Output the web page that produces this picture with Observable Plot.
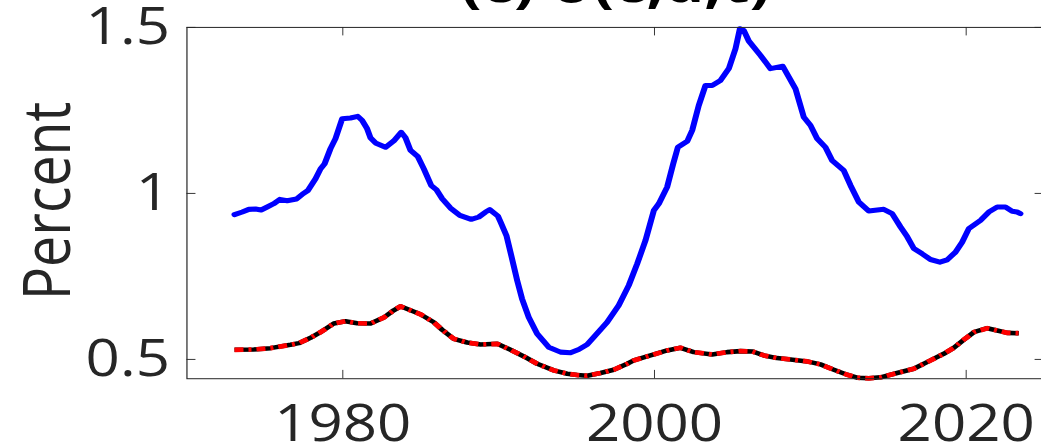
<!DOCTYPE html>
<html>
<head>
<meta charset="utf-8">
<script src="https://cdn.jsdelivr.net/npm/d3@7"></script>
<script src="https://cdn.jsdelivr.net/npm/@observablehq/plot@0.6"></script>
<style>
  html, body { margin: 0; padding: 0; background: #fff; overflow: hidden; }
  #chart svg { display: block; max-width: none; transform: scaleY(0.84); transform-origin: 0 0; }
</style>
</head>
<body>
<div id="chart"></div>
<script>
// Blue series: sigma(c,d,t)
const blueYears = [1973.05,1973.55,1973.97,1974.40,1974.76,1975.15,1975.57,1975.96,1976.43,1977.03,1977.39,1977.76,1978.25,1978.57,1978.83,1979.21,1979.53,1979.96,1980.49,1980.96,1981.24,1981.56,1981.78,1982.10,1982.74,1983.27,1983.75,1984.02,1984.34,1984.81,1985.20,1985.67,1986.01,1986.38,1986.91,1987.51,1988.24,1988.73,1989.16,1989.43,1989.95,1990.12,1990.50,1990.81,1991.19,1991.50,1991.93,1992.47,1993.22,1993.97,1994.61,1995.14,1995.68,1996.10,1996.96,1997.71,1998.35,1998.89,1999.42,1999.96,2000.28,2000.81,2001.20,2001.50,2002.10,2002.42,2002.84,2003.27,2003.70,2004.23,2004.77,2005.20,2005.48,2005.73,2006.05,2006.80,2007.44,2008.23,2009.05,2009.58,2010.01,2010.44,2010.97,2011.40,2012.15,2012.58,2013.11,2013.75,2014.71,2015.25,2015.79,2016.21,2016.64,2017.18,2017.71,2018.31,2018.78,2019.31,2019.74,2020.17,2020.92,2021.45,2021.99,2022.52,2022.95,2023.27,2023.48];
const blueValues = [0.936,0.944,0.952,0.953,0.950,0.959,0.969,0.982,0.978,0.983,0.997,1.009,1.044,1.074,1.089,1.135,1.165,1.225,1.227,1.232,1.220,1.195,1.167,1.152,1.139,1.158,1.184,1.168,1.130,1.111,1.074,1.024,1.011,0.984,0.956,0.934,0.922,0.929,0.944,0.951,0.932,0.914,0.873,0.813,0.738,0.683,0.627,0.577,0.537,0.522,0.520,0.530,0.545,0.567,0.612,0.663,0.723,0.788,0.858,0.949,0.969,1.019,1.089,1.139,1.157,1.190,1.265,1.325,1.325,1.340,1.376,1.436,1.496,1.491,1.459,1.416,1.376,1.383,1.315,1.230,1.205,1.165,1.139,1.099,1.069,1.024,0.974,0.947,0.952,0.939,0.899,0.870,0.834,0.818,0.801,0.793,0.800,0.823,0.853,0.894,0.919,0.944,0.959,0.959,0.946,0.944,0.939];

// Black (solid) and red (dash-dot) series, overlapping
const lowYears = [1973.05,1974.29,1975.36,1976.64,1977.18,1977.93,1978.57,1979.42,1980.17,1980.92,1981.78,1982.63,1983.27,1983.70,1984.34,1984.98,1985.84,1986.38,1987.12,1987.98,1988.84,1989.91,1990.76,1991.62,1992.47,1993.54,1994.40,1995.04,1995.68,1996.54,1997.39,1998.25,1998.67,1999.96,2000.81,2001.67,2002.52,2003.70,2004.66,2005.52,2006.27,2007.02,2007.87,2008.73,2009.80,2010.65,2011.51,2012.36,2013.00,2013.75,2014.50,2015.57,2016.64,2017.71,2018.56,2019.20,2019.84,2020.49,2021.35,2021.99,2022.63,2023.38];
const blackValues = [0.529,0.530,0.534,0.544,0.549,0.565,0.582,0.608,0.615,0.609,0.608,0.626,0.648,0.660,0.648,0.636,0.612,0.589,0.562,0.551,0.545,0.547,0.529,0.509,0.487,0.467,0.457,0.453,0.451,0.459,0.469,0.487,0.497,0.515,0.527,0.535,0.522,0.515,0.522,0.525,0.524,0.512,0.504,0.500,0.494,0.485,0.469,0.454,0.445,0.443,0.446,0.459,0.472,0.497,0.517,0.535,0.559,0.582,0.594,0.587,0.580,0.579];
const redValues = [0.529,0.530,0.534,0.544,0.549,0.565,0.582,0.608,0.615,0.609,0.608,0.626,0.648,0.660,0.648,0.636,0.612,0.589,0.562,0.551,0.545,0.547,0.529,0.509,0.487,0.467,0.457,0.453,0.451,0.459,0.469,0.487,0.497,0.515,0.527,0.535,0.522,0.515,0.522,0.525,0.524,0.512,0.504,0.500,0.494,0.485,0.469,0.454,0.445,0.443,0.446,0.459,0.472,0.497,0.517,0.535,0.559,0.582,0.594,0.587,0.580,0.579];

const xTicks = [1980, 2000, 2020];
const yTicks = [0.5, 1, 1.5];
const yTickLabels = ["0.5", "1", "1.5"];
const titleText = ["(c) σ(c,d,t)"];
const yLabel = ["Percent"];

const blue = blueYears.map((x, i) => ({x, y: blueValues[i]}));
const black = lowYears.map((x, i) => ({x, y: blackValues[i]}));
const red = lowYears.map((x, i) => ({x, y: redValues[i]}));

const S = 0.84;
const H = 448 / S;
const W = 1050;
const mL = 186.45, mR = W - 1043.6, mT = 27 / S, mB = H - 378.3 / S;
const innerH = H - mT - mB, innerW = W - mL - mR;
const ink = "#262626";
const redDash = "9 5 3 5";

const chart = Plot.plot({
  width: W,
  height: H,
  marginLeft: mL,
  marginRight: mR,
  marginTop: mT,
  marginBottom: mB,
  style: {fontFamily: "'Open Sans', 'Noto Sans', sans-serif", color: ink, background: "#fff"},
  x: {domain: [1970, 2025]},
  y: {domain: [0.4419, 1.5]},
  marks: [
    Plot.line(black, {x: "x", y: "y", stroke: "#000000", strokeWidth: 5.4, strokeLinecap: "butt"}),
    Plot.line(red, {x: "x", y: "y", stroke: "#ff0000", strokeWidth: 5.6, strokeLinecap: "butt", strokeDasharray: redDash}),
    Plot.line(blue, {x: "x", y: "y", stroke: "#0000ff", strokeWidth: 6, strokeLinejoin: "round"}),
    Plot.frame({stroke: ink, strokeWidth: 1.2}),
    Plot.tickX(xTicks, {x: d => d, insetTop: innerH - 10, stroke: ink, strokeWidth: 1}),
    Plot.tickX(xTicks, {x: d => d, insetBottom: innerH - 10, stroke: ink, strokeWidth: 1}),
    Plot.tickY(yTicks, {y: d => d, insetRight: innerW - 9, stroke: ink, strokeWidth: 1}),
    Plot.tickY(yTicks, {y: d => d, insetLeft: innerW - 9, stroke: ink, strokeWidth: 1}),
    Plot.axisX({ticks: xTicks, tickSize: 0, tickPadding: 32, fontSize: 60, tickFormat: d => String(d), label: null, fill: ink}),
    Plot.axisY({ticks: yTicks, tickSize: 0, tickPadding: 17, fontSize: 60, tickFormat: d => yTickLabels[yTicks.indexOf(d)], label: null, fill: ink}),
    Plot.text(yLabel, {frameAnchor: "left", textAnchor: "middle", lineAnchor: "middle", rotate: -90, dx: -138, dy: -2.5, fontSize: 66, fill: ink}),
    Plot.text(titleText, {frameAnchor: "top", textAnchor: "middle", lineAnchor: "bottom", dy: -30, fontSize: 63, fontWeight: "bold", fill: "#000"})
  ]
});
// make sure the dash-dot pattern is on the red line's path
const lineGroups = chart.querySelectorAll('g[aria-label="line"]');
if (lineGroups.length > 1) {
  lineGroups[1].querySelectorAll("path").forEach(p => {
    p.style.strokeDasharray = redDash;
    p.style.strokeLinecap = "butt";
  });
}
document.getElementById("chart").appendChild(chart);
</script>
</body>
</html>
